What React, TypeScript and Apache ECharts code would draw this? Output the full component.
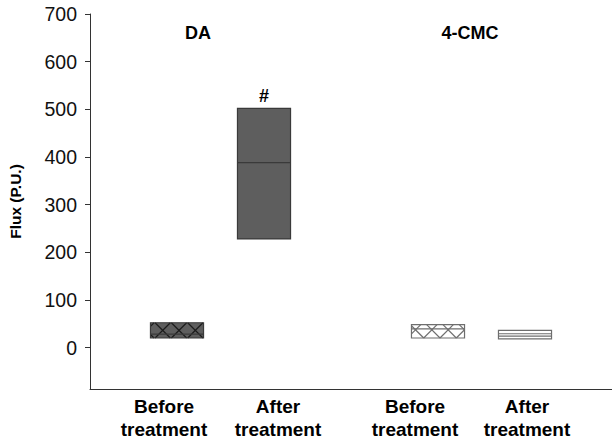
import React, { useEffect, useRef } from "react";
import * as echarts from "echarts";

// ---- data ----
const groups = ["DA", "4-CMC"];
const categories = ["Before\ntreatment", "After\ntreatment", "Before\ntreatment", "After\ntreatment"];
const positions = [1, 2, 4, 5];
const q1 = [20, 228, 20, 18];
const median = [28, 388, 39, 29];
const q3 = [52, 502, 48, 36];
const extraLine = [null, null, null, 24];
const sigMarks = ["", "#", "", ""];
const yTicks = [0, 100, 200, 300, 400, 500, 600, 700];

// ---- styles (by box index) ----
const boxStyles = [
  { fill: "#5e5e5e", stroke: "#3a3a3a", hatch: "#1c1c1c", hatchAnchor: "mid" },
  { fill: "#5e5e5e", stroke: "#3a3a3a", hatch: null, hatchAnchor: "mid" },
  { fill: "#ffffff", stroke: "#6e6e6e", hatch: "#6e6e6e", hatchAnchor: "bottom" },
  { fill: "#ffffff", stroke: "#6e6e6e", hatch: null, hatchAnchor: "mid" },
];

const FONT = "'Liberation Sans', Arial, sans-serif";

function hatchLines(x0: number, y0: number, x1: number, y1: number, ax: number, ay: number, s: number, stroke: string) {
  const els: any[] = [];
  for (let k = -30; k <= 30; k++) {
    const px = ax + k * s;
    const py = ay;
    let lo = Math.max(x0 - px, y0 - py);
    let hi = Math.min(x1 - px, y1 - py);
    if (hi - lo > 0.5) {
      els.push({
        type: "line",
        shape: { x1: px + lo, y1: py + lo, x2: px + hi, y2: py + hi },
        style: { stroke, lineWidth: 1.2 },
      });
    }
    lo = Math.max(x0 - px, py - y1);
    hi = Math.min(x1 - px, py - y0);
    if (hi - lo > 0.5) {
      els.push({
        type: "line",
        shape: { x1: px + lo, y1: py - lo, x2: px + hi, y2: py - hi },
        style: { stroke, lineWidth: 1.2 },
      });
    }
  }
  return els;
}

export default function App() {
  const ref = useRef<HTMLDivElement>(null);
  useEffect(() => {
    if (!ref.current) return;
    const chart = echarts.init(ref.current, null, { renderer: "svg" });
    const data = positions.map((p, i) => [p, q1[i], median[i], q3[i], extraLine[i] ?? NaN, i]);

    const xLabelCenters = [164, 278, 415, 527];
    const groupCenters = [198, 470];

    chart.setOption({
      animation: false,
      grid: { left: 90, right: 0, top: 14, bottom: 53, containLabel: false, outerBoundsMode: "none" },
      xAxis: {
        type: "value",
        min: 0,
        max: 6,
        axisLine: { show: true, onZero: false, lineStyle: { color: "#333", width: 1 } },
        axisTick: { show: false },
        axisLabel: { show: false },
        splitLine: { show: false },
      },
      yAxis: {
        type: "value",
        min: -87,
        max: 700,
        name: "Flux (P.U.)",
        nameLocation: "middle",
        nameGap: 67,
        nameTextStyle: { fontFamily: FONT, fontWeight: "bold", fontSize: 15.5, color: "#000" },
        axisLine: { show: true, onZero: false, lineStyle: { color: "#333", width: 1 } },
        axisTick: { show: true, customValues: yTicks, length: 5, lineStyle: { color: "#333" } },
        axisLabel: { customValues: yTicks, fontFamily: FONT, fontSize: 19.5, color: "#111", margin: 13 },
        splitLine: { show: false },
      },
      series: [
        {
          type: "custom",
          data,
          encode: { x: 0, y: [1, 2, 3] },
          clip: false,
          renderItem: (params: any, api: any) => {
            const pos = api.value(0);
            const idx = api.value(5);
            const st = boxStyles[idx];
            const w = api.size([0.61, 0])[0];
            const pTop = api.coord([pos, api.value(3)]);
            const pBot = api.coord([pos, api.value(1)]);
            const pMed = api.coord([pos, api.value(2)]);
            const x0 = pTop[0] - w / 2;
            const x1 = pTop[0] + w / 2;
            const y0 = pTop[1];
            const y1 = pBot[1];
            const children: any[] = [
              {
                type: "rect",
                shape: { x: x0, y: y0, width: w, height: y1 - y0 },
                style: { fill: st.fill, stroke: "none" },
              },
            ];
            if (st.hatch) {
              const ay = st.hatchAnchor === "bottom" ? y1 : (y0 + y1) / 2;
              children.push(...hatchLines(x0, y0, x1, y1, pTop[0] + 2, ay, 16.3, st.hatch));
            }
            children.push({
              type: "line",
              shape: { x1: x0, y1: pMed[1], x2: x1, y2: pMed[1] },
              style: { stroke: st.stroke, lineWidth: 1.2 },
            });
            const ex = api.value(4);
            if (!isNaN(ex)) {
              const pe = api.coord([pos, ex]);
              children.push({
                type: "line",
                shape: { x1: x0, y1: pe[1], x2: x1, y2: pe[1] },
                style: { stroke: st.stroke, lineWidth: 1.2 },
              });
            }
            children.push({
              type: "rect",
              shape: { x: x0, y: y0, width: w, height: y1 - y0 },
              style: { fill: "none", stroke: st.stroke, lineWidth: 1.2 },
            });
            const mark = sigMarks[idx];
            if (mark) {
              children.push({
                type: "text",
                x: pTop[0],
                y: y0 - 3,
                style: {
                  text: mark,
                  fontFamily: FONT,
                  fontWeight: "bold",
                  fontSize: 18,
                  fill: "#000",
                  align: "center",
                  verticalAlign: "bottom",
                },
              });
            }
            return { type: "group", children };
          },
        },
      ],
      graphic: [
        ...groups.map((g, i) => ({
          type: "text",
          x: groupCenters[i],
          y: 33,
          style: {
            text: g,
            fontFamily: FONT,
            fontWeight: "bold",
            fontSize: 18,
            fill: "#000",
            align: "center",
            verticalAlign: "middle",
          },
        })),
        ...categories.map((c, i) => ({
          type: "text",
          x: xLabelCenters[i],
          y: 395,
          style: {
            text: c,
            fontFamily: FONT,
            fontWeight: "bold",
            fontSize: 19,
            lineHeight: 23,
            fill: "#000",
            align: "center",
            verticalAlign: "top",
          },
        })),
      ],
    });
    return () => chart.dispose();
  }, []);
  return (
    <div
      ref={ref}
      style={{ position: "fixed", left: 0, top: 0, width: 612, height: 442, background: "#fff" }}
    />
  );
}
